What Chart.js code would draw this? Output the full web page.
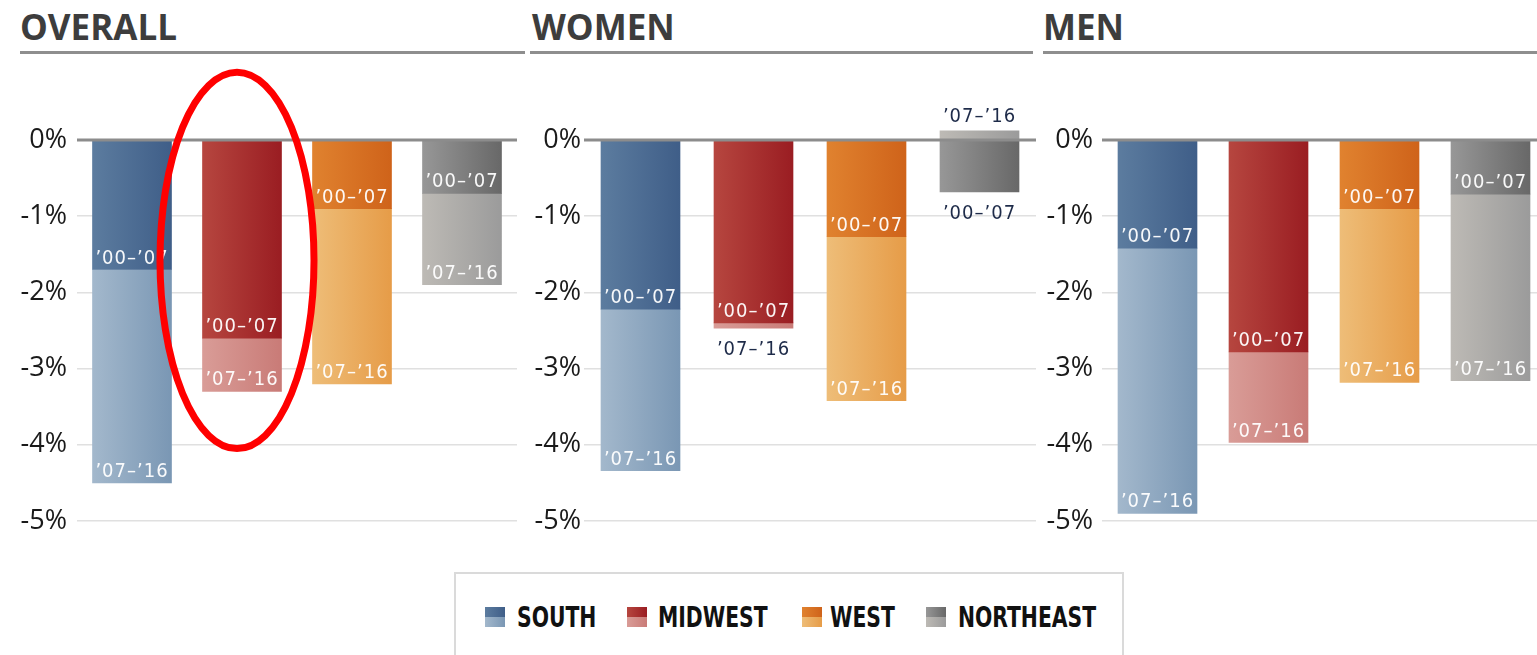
<!DOCTYPE html>
<html>
<head>
<meta charset="utf-8">
<script src="https://cdn.jsdelivr.net/npm/chart.js@4.4.1/dist/chart.umd.min.js"></script>
<style>
  html, body { margin: 0; padding: 0; background: #fff; }
  body { width: 1537px; height: 655px; overflow: hidden; position: relative; }
  .title { position: absolute; top: 9px; font: bold 35px 'Open Sans', sans-serif; line-height: 35px; color: #3d3d3d; }
  .rule { position: absolute; top: 51px; height: 3px; background: #8e8e8e; }
  .cv { position: absolute; top: 0; height: 560px; }
  .legend { position: absolute; left: 454px; top: 572px; width: 670px; height: 110px; border: 2px solid #dadada;
            box-sizing: border-box; }
  .sw { position: absolute; top: 33px; width: 20px; height: 20px; display: flex; flex-direction: column; }
  .sw div { flex: 1; }
  .lt { position: absolute; top: 30px; white-space: nowrap; font: bold 29px 'DejaVu Sans Condensed', 'DejaVu Sans', sans-serif;
        color: #111; line-height: 26px; transform: scaleX(0.78); transform-origin: 0 50%; }
</style>
</head>
<body>
<div class="title" style="left:20px">OVERALL</div>
<div class="title" style="left:532px">WOMEN</div>
<div class="title" style="left:1043px">MEN</div>
<div class="rule" style="left:20px;width:505px"></div>
<div class="rule" style="left:530px;width:503px"></div>
<div class="rule" style="left:1043px;width:494px"></div>

<canvas id="c0" class="cv" style="left:0px;width:517px"></canvas>
<canvas id="c1" class="cv" style="left:500px;width:536px"></canvas>
<canvas id="c2" class="cv" style="left:1010px;width:536px"></canvas>

<div class="legend" id="legend"></div>

<script>
// ---------- data ----------
const regions = ['SOUTH', 'MIDWEST', 'WEST', 'NORTHEAST'];
const periods = ['\u201900\u2013\u201907', '\u201907\u2013\u201916'];
const panelTitles = ['OVERALL', 'WOMEN', 'MEN'];
const overall0007 = [-1.7, -2.6, -0.9, -0.7];
const overall0716 = [-2.8, -0.7, -2.3, -1.2];
const women0007 = [-2.22, -2.4, -1.27, -0.68];
const women0716 = [-2.12, -0.07, -2.15, 0.12];
const men0007 = [-1.42, -2.78, -0.9, -0.71];
const men0716 = [-3.48, -1.19, -2.28, -2.45];
const yTicks = [0, -1, -2, -3, -4, -5];

// ---------- styles ----------
const darkCols = [
  ['#5c7c9f', '#3f5e88'],
  ['#b6463f', '#9a1d22'],
  ['#e0822f', '#cf631a'],
  ['#979797', '#686868']
];
const lightCols = [
  ['#a3b8cc', '#7a97b4'],
  ['#d99c97', '#c97b77'],
  ['#eebd78', '#e69c48'],
  ['#bdbab5', '#9b9b9b']
];
const BAR = 79;

function gradFill(cols) {
  return (ctx) => {
    const chart = ctx.chart;
    const pair = cols[ctx.dataIndex] || cols[0];
    if (!chart.chartArea || ctx.type !== 'data' || !chart.scales.x) return pair[1];
    const x = chart.scales.x.getPixelForValue(ctx.dataIndex);
    const g = chart.ctx.createLinearGradient(x - BAR / 2, 0, x + BAR / 2, 0);
    g.addColorStop(0, pair[0]);
    g.addColorStop(1, pair[1]);
    return g;
  };
}

const LABEL_FONT = "20px 'DejaVu Sans Condensed', 'DejaVu Sans', sans-serif";

const overlay = {
  id: 'overlay',
  afterDatasetsDraw(chart, args, opts) {
    const { ctx, chartArea: a, scales: { x, y } } = chart;
    ctx.save();
    // zero line on top of bars
    const y0 = y.getPixelForValue(0);
    ctx.strokeStyle = '#8c8c8c';
    ctx.lineWidth = 3;
    ctx.beginPath();
    ctx.moveTo(a.left, y0);
    ctx.lineTo(a.right + (opts.extend || 0), y0);
    ctx.stroke();

    // segment labels
    ctx.font = LABEL_FONT;
    if ('letterSpacing' in ctx) ctx.letterSpacing = '1px';
    ctx.textAlign = 'center';
    ctx.textBaseline = 'alphabetic';
    const n = chart.data.labels.length;
    for (let i = 0; i < n; i++) {
      const segs = chart.data.datasets.map((ds, k) => ({ k, v: ds.data[i], el: chart.getDatasetMeta(k).data[i] }));
      const mixed = segs.some(s => s.v > 0) && segs.some(s => s.v < 0);
      const lastNeg = segs.filter(s => s.v < 0).map(s => s.k).pop();
      const lastPos = segs.filter(s => s.v > 0).map(s => s.k).pop();
      segs.forEach(s => {
        const h = Math.abs(s.el.y - s.el.base);
        const outer = s.v < 0 ? s.k === lastNeg : s.k === lastPos;
        const outside = (mixed || h < 30) && outer;
        let by;
        if (s.v < 0) by = outside ? s.el.y + 27 : s.el.y - 6;
        else by = outside ? s.el.y - 9 : s.el.base - 6;
        ctx.fillStyle = outside ? '#1e2b49' : 'rgba(255,255,255,0.95)';
        ctx.fillText(periods[s.k], s.el.x, by);
      });
    }

    // highlight ellipse
    if (opts.ellipse) {
      const e = opts.ellipse;
      const cx = x.getPixelForValue(e.index) + e.dx;
      const cy = y.getPixelForValue(e.centerValue);
      const ry = y.getPixelForValue(-e.halfSpan) - y.getPixelForValue(0);
      ctx.strokeStyle = '#ff0000';
      ctx.lineWidth = 7;
      ctx.beginPath();
      ctx.ellipse(cx, cy, e.rx, ry, 0, 0, Math.PI * 2);
      ctx.stroke();
    }
    ctx.restore();
  }
};

function makePanel(id, d1, d2, yWidth, tickPad, extend, ellipse) {
  new Chart(document.getElementById(id), {
    type: 'bar',
    data: {
      labels: regions,
      datasets: [
        { label: periods[0], data: d1, backgroundColor: gradFill(darkCols), borderWidth: 0, clip: false,
          barThickness: BAR },
        { label: periods[1], data: d2, backgroundColor: gradFill(lightCols), borderWidth: 0, clip: false,
          barThickness: BAR }
      ]
    },
    options: {
      responsive: false,
      maintainAspectRatio: false,
      animation: false,
      events: [],
      layout: { padding: { top: 140, bottom: 39, left: 0, right: 0 } },
      plugins: {
        legend: { display: false },
        tooltip: { enabled: false },
        overlay: { extend, ellipse }
      },
      scales: {
        x: { stacked: true, display: false },
        y: {
          stacked: true,
          min: Math.min(...yTicks),
          max: Math.max(...yTicks),
          afterFit: (s) => { s.width = yWidth; },
          afterBuildTicks: (s) => { s.ticks = yTicks.map(v => ({ value: v })); },
          border: { display: false },
          grid: {
            drawTicks: false,
            lineWidth: 1.5,
            color: (c) => (c.tick && c.tick.value === 0) ? 'rgba(0,0,0,0)' : '#e0e0e0'
          },
          ticks: {
            padding: tickPad,
            color: '#1a1a1a',
            font: { family: "'Open Sans', sans-serif", size: 27 },
            callback: (v) => v + '%'
          }
        }
      }
    },
    plugins: [overlay]
  });
}

function sizeCanvas(id) {
  const c = document.getElementById(id);
  c.width = parseInt(c.style.width);
  c.height = 560;
}
['c0', 'c1', 'c2'].forEach(sizeCanvas);

makePanel('c0', overall0007, overall0716, 77, 10, 3,
  { index: 1, dx: -5, centerValue: -1.58, halfSpan: 2.47, rx: 77 });
makePanel('c1', women0007, women0716, 84, 3, 0, null);
makePanel('c2', men0007, men0716, 92, 9, 0, null);

// ---------- legend ----------
const lg = document.getElementById('legend');
const swLeft = [29, 171, 346, 470];
const txLeft = [61, 202, 374, 502];
regions.forEach((r, i) => {
  const sw = document.createElement('div');
  sw.className = 'sw';
  sw.style.left = swLeft[i] + 'px';
  sw.innerHTML = '<div style="background:linear-gradient(90deg,' + darkCols[i][0] + ',' + darkCols[i][1] +
    ')"></div><div style="background:linear-gradient(90deg,' + lightCols[i][0] + ',' + lightCols[i][1] + ')"></div>';
  const t = document.createElement('div');
  t.className = 'lt';
  t.style.left = txLeft[i] + 'px';
  t.textContent = r;
  lg.appendChild(sw);
  lg.appendChild(t);
});
</script>
</body>
</html>
